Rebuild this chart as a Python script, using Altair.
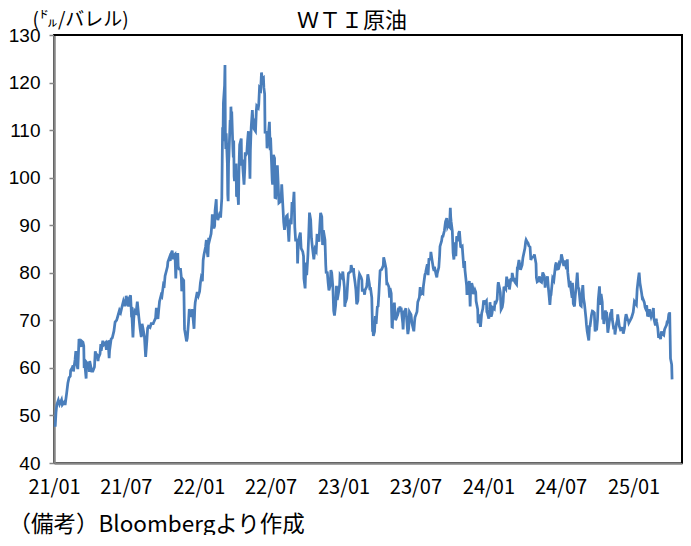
import altair as alt
import pandas as pd

FONT = "Noto Sans CJK JP"
NUM_FONT = "Liberation Sans"

# ---- WTI front-month (USD/bbl) ----
d21 = ["01-04","01-06","01-08","01-12","01-13","01-15","01-20","01-22","01-27","01-29",
       "02-02","02-05","02-08","02-11","02-12","02-16","02-18","02-19","02-23","02-25","02-26",
       "03-02","03-04","03-05","03-08","03-10","03-12","03-15","03-17","03-18","03-19","03-23","03-24","03-26","03-30","03-31",
       "04-01","04-06","04-09","04-13","04-15","04-16","04-20","04-22","04-23","04-27","04-29","04-30",
       "05-04","05-07","05-11","05-13","05-14","05-18","05-19","05-20","05-21","05-25","05-28",
       "06-01","06-04","06-08","06-11","06-15","06-18","06-22","06-25","06-29","06-30",
       "07-02","07-06","07-08","07-09","07-13","07-15","07-16","07-19","07-21","07-23","07-27","07-30",
       "08-03","08-06","08-09","08-11","08-13","08-17","08-19","08-20","08-23","08-25","08-27","08-31",
       "09-03","09-08","09-10","09-14","09-16","09-17","09-20","09-22","09-24","09-28","09-30",
       "10-04","10-06","10-08","10-12","10-14","10-15","10-19","10-21","10-22","10-26","10-28","10-29",
       "11-02","11-04","11-05","11-09","11-10","11-12","11-16","11-18","11-19","11-23","11-24","11-26","11-30",
       "12-01","12-03","12-06","12-08","12-10","12-14","12-16","12-17","12-20","12-22","12-23","12-28","12-31"]
p21 = [47.62,50.63,52.24,53.21,52.91,52.36,53.31,52.27,52.85,52.20,
       54.76,56.85,57.97,58.24,59.47,60.05,60.52,59.24,61.67,63.53,61.50,
       59.75,63.83,66.09,65.05,64.44,65.61,65.39,64.60,60.00,61.42,57.76,61.18,60.97,60.55,59.16,
       61.45,59.33,59.32,60.18,63.46,63.13,62.67,61.43,62.14,62.94,65.01,63.58,
       65.69,64.90,65.28,63.82,65.37,65.49,63.36,62.05,63.58,66.07,66.32,
       67.72,69.62,70.05,70.91,72.12,71.64,73.06,74.05,72.98,73.47,
       75.16,73.37,72.94,74.56,75.25,71.65,71.81,66.42,70.30,72.07,71.65,73.95,
       70.56,68.28,66.48,69.25,68.44,66.59,63.69,62.32,65.64,68.36,68.74,68.50,
       69.29,69.30,69.72,70.46,72.61,71.97,70.29,72.23,73.98,75.29,75.03,
       77.62,77.43,79.35,80.64,81.31,82.28,83.21,82.50,83.76,84.65,82.81,83.57,
       83.91,78.81,81.27,84.15,81.34,80.79,80.76,79.01,76.10,78.50,78.39,68.15,66.18,
       65.57,66.26,69.49,72.36,71.67,70.73,72.38,70.86,68.23,72.76,73.79,75.98,75.21]

d22 = ["01-03","01-05","01-07","01-10","01-12","01-14","01-18","01-20","01-21","01-24","01-26","01-28",
       "02-01","02-03","02-04","02-08","02-10","02-11","02-14","02-15","02-17","02-18","02-22","02-24","02-25","02-28",
       "03-01","03-02","03-03","03-04","03-07","03-08","03-09","03-10","03-11","03-14","03-15","03-16","03-17","03-18",
       "03-21","03-22","03-23","03-24","03-25","03-28","03-29","03-30","03-31",
       "04-01","04-05","04-06","04-07","04-08","04-11","04-12","04-13","04-14","04-18","04-19","04-21","04-22","04-25","04-27","04-28","04-29",
       "05-02","05-04","05-06","05-09","05-10","05-11","05-13","05-16","05-17","05-19","05-20","05-24","05-26","05-27","05-31",
       "06-01","06-03","06-06","06-08","06-10","06-13","06-14","06-16","06-17","06-21","06-22","06-24","06-28","06-30",
       "07-01","07-05","07-06","07-08","07-11","07-12","07-14","07-15","07-18","07-20","07-22","07-26","07-28","07-29",
       "08-01","08-03","08-05","08-08","08-10","08-12","08-16","08-18","08-19","08-22","08-24","08-26","08-29","08-31",
       "09-02","09-06","09-07","09-09","09-12","09-14","09-16","09-20","09-22","09-23","09-26","09-28","09-30",
       "10-03","10-05","10-07","10-10","10-12","10-14","10-18","10-20","10-21","10-24","10-26","10-28","10-31",
       "11-02","11-04","11-07","11-09","11-11","11-15","11-17","11-18","11-21","11-23","11-25","11-28","11-30",
       "12-02","12-05","12-07","12-09","12-12","12-14","12-16","12-20","12-22","12-23","12-28","12-30"]
p22 = [76.08,77.85,78.90,78.23,82.64,83.82,85.43,86.90,85.14,83.31,87.35,86.82,
       88.20,90.27,92.31,89.36,89.88,93.10,95.46,92.07,91.76,91.07,92.35,92.81,91.59,95.72,
       103.41,110.60,107.67,115.68,119.40,123.70,108.70,106.02,109.33,103.01,96.44,95.04,102.98,104.70,
       112.12,109.27,114.93,112.34,113.90,105.96,104.24,107.82,100.28,
       99.27,102.96,96.23,96.03,98.26,94.29,100.60,104.25,106.95,108.21,102.56,103.79,102.07,98.54,102.02,105.36,104.69,
       105.17,107.81,109.77,103.09,99.76,105.71,110.49,114.20,112.40,112.21,110.28,109.77,114.09,115.07,114.67,
       115.26,118.87,118.50,122.11,120.67,120.93,118.93,117.59,109.56,109.52,106.19,107.62,111.76,105.76,
       108.43,99.50,98.53,104.79,104.09,95.84,95.78,97.59,102.60,98.88,94.70,94.98,96.42,98.62,
       93.89,90.66,89.01,90.76,91.93,92.09,86.53,90.50,90.77,90.23,94.89,93.06,97.01,89.55,
       86.87,86.88,81.94,86.79,87.78,88.48,85.11,84.45,83.49,78.74,76.71,82.15,79.49,
       83.63,87.76,92.64,91.13,87.27,85.61,82.82,84.51,85.05,84.58,87.91,87.90,86.53,
       90.00,92.61,91.79,85.83,88.96,86.92,81.64,80.08,80.04,77.94,76.28,77.24,80.55,
       79.98,76.93,72.01,71.02,73.17,77.28,74.29,76.23,77.49,79.56,78.96,80.26]

d23 = ["01-03","01-04","01-05","01-06","01-09","01-11","01-13","01-17","01-19","01-20","01-24","01-26","01-27","01-30",
       "02-01","02-03","02-06","02-08","02-10","02-14","02-16","02-17","02-21","02-23","02-24","02-28",
       "03-01","03-03","03-07","03-08","03-10","03-13","03-14","03-15","03-16","03-17","03-20","03-22","03-24","03-27","03-29","03-31",
       "04-03","04-05","04-07","04-11","04-12","04-14","04-18","04-20","04-21","04-25","04-27","04-28",
       "05-01","05-02","05-03","05-04","05-05","05-09","05-11","05-12","05-16","05-18","05-19","05-23","05-25","05-26","05-30","05-31",
       "06-02","06-05","06-07","06-09","06-12","06-14","06-16","06-20","06-22","06-23","06-27","06-29","06-30",
       "07-05","07-07","07-11","07-13","07-14","07-18","07-20","07-21","07-25","07-27","07-28","07-31",
       "08-02","08-04","08-08","08-09","08-11","08-15","08-17","08-18","08-22","08-24","08-25","08-29","08-31",
       "09-01","09-05","09-07","09-08","09-12","09-14","09-15","09-18","09-20","09-22","09-25","09-27","09-28","09-29",
       "10-02","10-04","10-06","10-09","10-11","10-13","10-17","10-18","10-20","10-23","10-25","10-27","10-31",
       "11-02","11-03","11-07","11-08","11-10","11-14","11-16","11-17","11-20","11-22","11-24","11-28","11-30",
       "12-01","12-05","12-06","12-08","12-12","12-13","12-15","12-18","12-20","12-22","12-27","12-28","12-29"]
p23 = [76.93,72.84,73.67,73.77,74.63,77.41,79.86,80.18,80.33,81.64,80.13,81.01,79.68,77.90,
       76.41,73.39,74.11,78.47,79.72,79.06,78.49,76.34,76.36,75.39,76.32,77.05,
       77.69,79.68,77.58,76.66,76.68,74.80,71.33,67.61,68.35,66.74,67.64,70.90,69.26,72.81,72.97,75.67,
       80.42,80.61,80.70,81.53,83.26,82.52,80.86,77.37,77.87,77.07,74.76,76.78,
       75.66,71.66,68.60,68.56,71.34,73.71,70.87,70.04,70.86,71.86,71.69,72.91,71.83,72.67,69.46,68.09,
       71.74,72.15,72.53,70.17,67.12,68.27,71.78,71.19,69.51,69.16,67.70,69.86,70.64,
       71.79,73.86,74.83,77.00,75.42,75.75,75.63,77.07,79.63,80.09,80.58,81.80,
       79.49,82.82,82.92,84.40,83.19,80.99,80.39,81.25,79.64,79.05,79.83,81.16,83.63,
       85.55,86.69,87.87,87.51,88.84,90.16,90.77,91.48,89.66,90.03,89.68,93.68,91.71,90.79,
       88.82,84.22,82.79,86.38,83.49,87.69,86.66,88.32,88.75,85.49,85.39,85.54,81.02,
       82.46,80.51,77.37,75.33,77.17,78.26,72.90,75.89,77.83,77.10,75.54,76.41,75.96,
       74.07,72.32,69.38,71.23,68.61,69.47,71.43,72.47,74.22,73.56,74.11,71.77,71.65]

d24 = ["01-02","01-04","01-05","01-08","01-10","01-12","01-16","01-18","01-19","01-23","01-25","01-26","01-29","01-31",
       "02-02","02-05","02-07","02-09","02-12","02-14","02-16","02-20","02-22","02-23","02-27","02-29",
       "03-01","03-05","03-07","03-08","03-12","03-14","03-15","03-18","03-20","03-22","03-26","03-28",
       "04-02","04-04","04-05","04-08","04-10","04-12","04-15","04-17","04-19","04-23","04-25","04-26","04-30",
       "05-01","05-03","05-07","05-09","05-10","05-14","05-16","05-17","05-21","05-23","05-24","05-29","05-31",
       "06-03","06-04","06-06","06-07","06-11","06-13","06-14","06-18","06-20","06-21","06-25","06-27","06-28",
       "07-02","07-03","07-05","07-09","07-11","07-12","07-16","07-18","07-19","07-23","07-25","07-26","07-30","07-31",
       "08-02","08-05","08-07","08-09","08-12","08-14","08-16","08-20","08-22","08-23","08-26","08-28","08-30",
       "09-03","09-04","09-06","09-10","09-12","09-13","09-17","09-19","09-20","09-24","09-26","09-27","09-30",
       "10-02","10-04","10-07","10-09","10-11","10-14","10-15","10-17","10-18","10-22","10-24","10-25","10-28","10-30","10-31",
       "11-04","11-06","11-07","11-08","11-12","11-14","11-15","11-19","11-21","11-22","11-26","11-29",
       "12-02","12-04","12-06","12-09","12-11","12-13","12-17","12-19","12-20","12-24","12-27","12-31"]
p24 = [70.38,72.19,73.81,70.77,71.37,72.68,72.40,74.08,73.41,74.37,77.36,78.01,76.78,75.85,
       72.28,72.78,73.86,76.84,76.92,76.64,79.19,77.04,78.61,76.49,78.87,78.26,
       79.97,78.15,78.93,78.01,77.56,81.26,81.04,82.72,81.68,80.63,81.62,83.17,
       85.15,86.59,86.91,86.43,86.21,85.66,85.41,82.69,83.14,83.36,83.57,83.85,81.93,
       79.00,78.11,78.38,79.26,78.26,78.02,79.23,80.06,79.26,76.87,77.72,79.23,76.99,
       74.22,73.25,75.55,75.53,78.90,78.62,78.45,81.57,82.17,80.73,80.83,81.74,81.54,
       82.81,83.88,83.16,81.41,82.62,82.21,80.76,82.82,80.13,76.96,78.28,77.16,74.73,77.91,
       73.52,72.94,75.23,76.84,80.06,76.98,76.65,73.17,73.01,74.83,77.42,74.52,73.55,
       70.34,69.20,67.67,65.75,68.97,68.65,71.19,71.95,71.92,71.56,67.67,68.18,68.17,
       70.10,74.38,77.14,73.24,75.56,73.83,70.58,70.67,69.22,72.09,70.19,71.78,67.38,68.61,69.26,
       71.47,71.69,72.36,70.38,68.12,68.70,67.02,69.39,70.10,71.24,68.77,68.00,
       68.10,68.54,67.20,68.37,70.29,71.29,70.08,69.91,69.46,70.10,70.60,71.72]

d25 = ["01-03","01-06","01-08","01-10","01-13","01-15","01-17","01-21","01-23","01-24","01-28","01-30","01-31",
       "02-03","02-05","02-07","02-10","02-12","02-14","02-18","02-20","02-21","02-25","02-27","02-28",
       "03-03","03-05","03-07","03-10","03-12","03-14","03-18","03-20","03-21","03-25","03-27","03-28","03-31",
       "04-01","04-02","04-03","04-04","04-07","04-08"]
p25 = [73.96,73.56,73.32,76.57,78.82,80.04,77.88,75.83,74.62,74.66,73.77,72.73,72.53,
       73.16,71.03,71.00,72.32,71.37,70.74,71.85,72.57,70.40,68.93,70.35,69.76,
       68.37,66.31,67.04,66.03,67.68,67.18,66.90,68.07,68.28,69.00,69.92,69.36,71.48,
       71.20,71.71,66.95,61.99,60.70,57.58]

tick_months = ["2021-01","2021-07","2022-01","2022-07","2023-01","2023-07","2024-01","2024-07","2025-01"]
y_ticks = [40, 50, 60, 70, 80, 90, 100, 110, 120, 130]

dates, prices = [], []
for yr, ds, ps in [(2021, d21, p21), (2022, d22, p22), (2023, d23, p23), (2024, d24, p24), (2025, d25, p25)]:
    assert len(ds) == len(ps), (yr, len(ds), len(ps))
    dates += [f"{yr}-{d}" for d in ds]
    prices += ps

df = pd.DataFrame({"date": dates, "price": prices})

W, H = 628, 428

x_values = [alt.DateTime(year=int(m[:4]), month=int(m[5:7]), date=1, utc=True) for m in tick_months]

line = alt.Chart(df).mark_line(color="#4A7EBB", strokeWidth=2.75).encode(
    x=alt.X("date:T",
            scale=alt.Scale(type="utc",
                            domain=[alt.DateTime(year=2021, month=1, date=1, utc=True),
                                    alt.DateTime(year=2025, month=5, date=3, utc=True)]),
            axis=alt.Axis(values=x_values, format="%y/%m",
                          labelFont=FONT, labelFontSize=20, labelColor="black",
                          labelFlush=False, labelOverlap=False,
                          ticks=False, tickSize=0, labelPadding=14,
                          domainColor="#868686", domainWidth=2.5, grid=False,
                          title="（備考）Bloombergより作成", titleX=-46, titleY=68,
                          titleAlign="left", titleBaseline="alphabetic",
                          titleFont=FONT, titleFontSize=22.5, titleFontWeight="normal",
                          titleColor="black")),
    y=alt.Y("price:Q",
            scale=alt.Scale(domain=[40, 130], nice=False, zero=False),
            axis=alt.Axis(values=y_ticks, labelFont=NUM_FONT, labelFontSize=19, labelColor="black",
                          tickSize=5, tickColor="#868686", tickWidth=1.5, labelPadding=9,
                          domainColor="#868686", domainWidth=2.5, grid=False,
                          title="(㌦/バレル)", titleAngle=0, titleAlign="left",
                          titleBaseline="alphabetic", titleX=-22, titleY=-10,
                          titleFont=FONT, titleFontSize=19, titleFontWeight="normal",
                          titleColor="black")),
)

frame_src = pd.DataFrame({"k": [0]})
top_border = alt.Chart(frame_src).mark_rule(color="black", strokeWidth=2).encode(
    x=alt.value(0), x2=alt.value(W), y=alt.value(0))
right_border = alt.Chart(frame_src).mark_rule(color="black", strokeWidth=2).encode(
    x=alt.value(W), y=alt.value(0), y2=alt.value(H))

chart = alt.layer(line, top_border, right_border).properties(
    width=W, height=H,
    autosize=alt.AutoSizeParams(type="none"),
    padding={"left": 46, "top": 27, "right": 1, "bottom": 72},
    title=alt.TitleParams("ＷＴＩ原油", font=FONT, fontSize=22, fontWeight="normal",
                          color="black", anchor="middle", dx=-16, offset=-39.5,
                          baseline="alphabetic", frame="group"),
).configure_view(stroke="black", strokeWidth=2)

chart.save("out.html", embed_options={"renderer": "svg", "actions": False})
